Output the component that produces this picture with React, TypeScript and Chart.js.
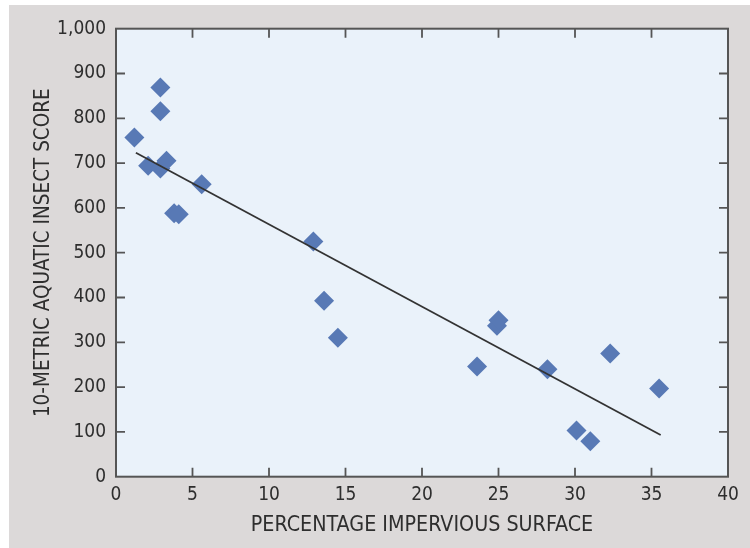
import React, { useEffect, useRef } from 'react';
import { Chart, registerables } from 'chart.js';

Chart.register(...registerables);

// Data
const imperviousPct = [1.2, 2.9, 2.9, 2.1, 2.9, 3.3, 3.8, 4.1, 5.6, 12.9, 13.6, 14.5, 23.6, 24.9, 25.0, 28.2, 30.1, 31.0, 32.3, 35.5];
const insectScore = [757, 869, 816, 694, 688, 705, 588, 586, 653, 525, 393, 310, 246, 337, 349, 240, 103, 79, 275, 197];
const trendX = [1.3, 35.6];
const trendY = [723, 93];
const xTickLabels = ['0', '5', '10', '15', '20', '25', '30', '35', '40'];
const yTickLabels = ['0', '100', '200', '300', '400', '500', '600', '700', '800', '900', '1,000'];
const xTitle = 'PERCENTAGE IMPERVIOUS SURFACE';
const yTitle = '10-METRIC AQUATIC INSECT SCORE';

const FONT = '"DejaVu Sans Condensed", "Liberation Sans Narrow", sans-serif';

const framePlugin = {
  id: 'frame',
  beforeDraw(chart: any) {
    const { ctx, chartArea: a, width, height } = chart;
    ctx.save();
    ctx.fillStyle = '#dcd9d9';
    ctx.fillRect(9, 5, width - 9, height - 5);
    ctx.fillStyle = '#eaf2fa';
    ctx.fillRect(a.left, a.top, a.right - a.left, a.bottom - a.top);
    ctx.restore();
  },
  afterDraw(chart: any) {
    const { ctx, chartArea: a, scales } = chart;
    const xs = scales.x;
    const ys = scales.y;
    const tl = 9;
    ctx.save();
    ctx.strokeStyle = '#555555';
    ctx.lineWidth = 1.8;
    ctx.beginPath();
    xs.ticks.forEach((t: any, i: number) => {
      if (i === 0 || i === xs.ticks.length - 1) return;
      const px = xs.getPixelForValue(t.value);
      ctx.moveTo(px, a.bottom);
      ctx.lineTo(px, a.bottom - tl);
      ctx.moveTo(px, a.top);
      ctx.lineTo(px, a.top + tl);
    });
    ys.ticks.forEach((t: any, i: number) => {
      if (i === 0 || i === ys.ticks.length - 1) return;
      const py = ys.getPixelForValue(t.value);
      ctx.moveTo(a.left, py);
      ctx.lineTo(a.left + tl, py);
      ctx.moveTo(a.right, py);
      ctx.lineTo(a.right - tl, py);
    });
    ctx.stroke();
    ctx.lineWidth = 2;
    ctx.strokeRect(a.left, a.top, a.right - a.left, a.bottom - a.top);
    ctx.restore();
  },
};

export default function App() {
  const ref = useRef<HTMLCanvasElement | null>(null);

  useEffect(() => {
    if (!ref.current) return;
    const points = imperviousPct.map((x, i) => ({ x, y: insectScore[i] }));
    const trend = trendX.map((x, i) => ({ x, y: trendY[i] }));
    const chart = new Chart(ref.current, {
      type: 'scatter',
      data: {
        datasets: [
          {
            label: 'Trend',
            data: trend,
            showLine: true,
            borderColor: '#333333',
            borderWidth: 1.8,
            pointRadius: 0,
            order: 0,
          },
          {
            label: 'Sites',
            data: points,
            pointStyle: 'rectRot',
            pointRadius: 10,
            pointBackgroundColor: '#5879b5',
            pointBorderColor: '#5879b5',
            pointBorderWidth: 0,
            order: 1,
          },
        ],
      },
      options: {
        animation: false,
        responsive: false,
        layout: { padding: { left: 0, top: 28.7, right: 22, bottom: 0 } },
        plugins: { legend: { display: false }, tooltip: { enabled: false } },
        scales: {
          x: {
            type: 'linear',
            min: 0,
            max: 40,
            grid: { display: false, drawTicks: false },
            border: { display: false },
            ticks: {
              stepSize: 5,
              autoSkip: false,
              maxRotation: 0,
              padding: 7,
              color: '#2e2e2e',
              font: { family: FONT, size: 19 },
              callback: (_v: any, i: number) => xTickLabels[i],
            },
            title: {
              display: true,
              text: xTitle,
              color: '#2e2e2e',
              font: { family: FONT, size: 21.3 },
              padding: { top: 0, bottom: 10.2 },
            },
            afterFit: (s: any) => {
              s.height = 71.3;
            },
          },
          y: {
            type: 'linear',
            min: 0,
            max: 1000,
            grid: { display: false, drawTicks: false },
            border: { display: false },
            ticks: {
              stepSize: 100,
              autoSkip: false,
              padding: 10,
              color: '#2e2e2e',
              font: { family: FONT, size: 19 },
              callback: (_v: any, i: number) => yTickLabels[i],
            },
            title: {
              display: true,
              text: yTitle,
              color: '#2e2e2e',
              font: { family: FONT, size: 20.5 },
              padding: { top: 31.7, bottom: 0 },
            },
            afterFit: (s: any) => {
              s.width = 116;
            },
          },
        },
      },
      plugins: [framePlugin],
    });
    return () => chart.destroy();
  }, []);

  return (
    <div style={{ position: 'absolute', left: 0, top: 0, width: 750, height: 548 }}>
      <canvas ref={ref} width={750} height={548} />
    </div>
  );
}
